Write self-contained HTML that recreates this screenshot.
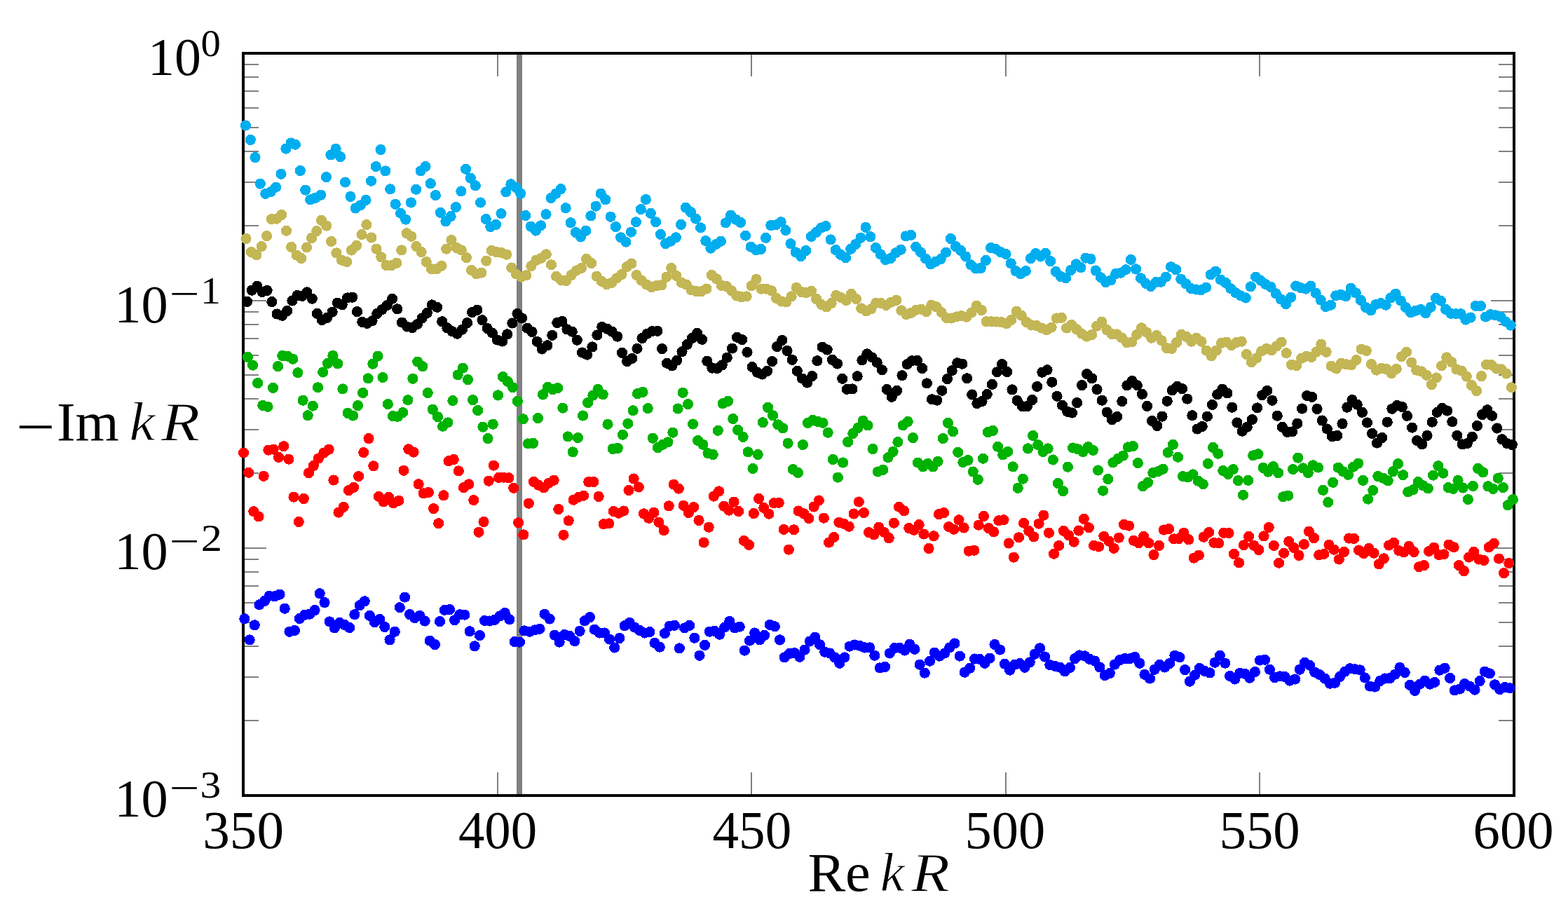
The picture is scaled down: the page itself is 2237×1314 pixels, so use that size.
<!DOCTYPE html>
<html lang="en"><head><meta charset="utf-8"><title>Resonances: Re kR vs −Im kR</title>
<style>
html,body{margin:0;padding:0;background:#fff;}
body{width:2237px;height:1314px;overflow:hidden;position:relative;}
svg{position:absolute;left:0;top:0;display:block;}
text{font-family:"Liberation Serif","DejaVu Serif",serif;fill:#000;}
</style></head><body>
<svg width="2237" height="1314" viewBox="0 0 2237 1314">
<rect x="0" y="0" width="2237" height="1314" fill="#fff"/>
<path d="M347 321h22v2h-22zM2138 321h22v2h-22zM347 259h22v2h-22zM2138 259h22v2h-22zM347 215h22v2h-22zM2138 215h22v2h-22zM347 181h22v2h-22zM2138 181h22v2h-22zM347 153h22v2h-22zM2138 153h22v2h-22zM347 129h22v2h-22zM2138 129h22v2h-22zM347 109h22v2h-22zM2138 109h22v2h-22zM347 91h22v2h-22zM2138 91h22v2h-22zM347 674h22v2h-22zM2138 674h22v2h-22zM347 612h22v2h-22zM2138 612h22v2h-22zM347 568h22v2h-22zM2138 568h22v2h-22zM347 534h22v2h-22zM2138 534h22v2h-22zM347 506h22v2h-22zM2138 506h22v2h-22zM347 482h22v2h-22zM2138 482h22v2h-22zM347 462h22v2h-22zM2138 462h22v2h-22zM347 444h22v2h-22zM2138 444h22v2h-22zM347 1027h22v2h-22zM2138 1027h22v2h-22zM347 965h22v2h-22zM2138 965h22v2h-22zM347 921h22v2h-22zM2138 921h22v2h-22zM347 887h22v2h-22zM2138 887h22v2h-22zM347 859h22v2h-22zM2138 859h22v2h-22zM347 835h22v2h-22zM2138 835h22v2h-22zM347 815h22v2h-22zM2138 815h22v2h-22zM347 797h22v2h-22zM2138 797h22v2h-22zM347 428h33v2h-33zM2127 428h33v2h-33zM347 781h33v2h-33zM2127 781h33v2h-33zM709 1102v33h2v-33zM709 76v33h2v-33zM1071 1102v33h2v-33zM1071 76v33h2v-33zM1434 1102v33h2v-33zM1434 76v33h2v-33zM1796 1102v33h2v-33zM1796 76v33h2v-33z" fill="#808080" shape-rendering="crispEdges"/>
<rect x="737" y="76" width="8" height="1059" fill="#808080" shape-rendering="crispEdges"/>
<rect x="347.0" y="76.0" width="1813.0" height="1059.0" fill="none" stroke="#000" stroke-width="4" shape-rendering="crispEdges"/>
<g fill="#0000ff" shape-rendering="crispEdges">
<circle cx="348.9" cy="882.8" r="7.6"/><circle cx="356.1" cy="912.9" r="7.6"/><circle cx="363.2" cy="891.8" r="7.6"/><circle cx="370.0" cy="862.8" r="7.6"/><circle cx="377.6" cy="857.4" r="7.6"/><circle cx="384.2" cy="850.3" r="7.6"/><circle cx="391.9" cy="850.8" r="7.6"/><circle cx="399.0" cy="848.1" r="7.6"/><circle cx="406.2" cy="868.2" r="7.6"/><circle cx="413.0" cy="901.2" r="7.6"/><circle cx="420.5" cy="899.5" r="7.6"/><circle cx="427.3" cy="882.5" r="7.6"/><circle cx="434.8" cy="877.1" r="7.6"/><circle cx="441.9" cy="876.2" r="7.6"/><circle cx="449.1" cy="870.5" r="7.6"/><circle cx="456.2" cy="846.7" r="7.6"/><circle cx="463.0" cy="859.6" r="7.6"/><circle cx="470.2" cy="886.9" r="7.6"/><circle cx="477.3" cy="895.9" r="7.6"/><circle cx="484.5" cy="888.4" r="7.6"/><circle cx="491.6" cy="891.4" r="7.6"/><circle cx="498.8" cy="895.5" r="7.6"/><circle cx="505.9" cy="876.7" r="7.6"/><circle cx="513.1" cy="863.7" r="7.6"/><circle cx="520.2" cy="857.8" r="7.6"/><circle cx="527.4" cy="878.4" r="7.6"/><circle cx="534.5" cy="887.8" r="7.6"/><circle cx="541.7" cy="883.4" r="7.6"/><circle cx="548.9" cy="894.5" r="7.6"/><circle cx="556.0" cy="912.9" r="7.6"/><circle cx="563.2" cy="901.2" r="7.6"/><circle cx="570.3" cy="866.7" r="7.6"/><circle cx="577.5" cy="852.1" r="7.6"/><circle cx="584.6" cy="876.7" r="7.6"/><circle cx="591.8" cy="881.6" r="7.6"/><circle cx="598.9" cy="878.4" r="7.6"/><circle cx="606.1" cy="886.0" r="7.6"/><circle cx="613.2" cy="914.1" r="7.6"/><circle cx="620.4" cy="919.7" r="7.6"/><circle cx="627.5" cy="886.6" r="7.6"/><circle cx="634.3" cy="870.3" r="7.6"/><circle cx="641.5" cy="869.6" r="7.6"/><circle cx="648.6" cy="884.8" r="7.6"/><circle cx="655.8" cy="876.7" r="7.6"/><circle cx="662.9" cy="877.1" r="7.6"/><circle cx="670.1" cy="900.7" r="7.6"/><circle cx="677.2" cy="921.8" r="7.6"/><circle cx="684.4" cy="906.6" r="7.6"/><circle cx="691.5" cy="885.5" r="7.6"/><circle cx="698.7" cy="886.0" r="7.6"/><circle cx="705.8" cy="884.3" r="7.6"/><circle cx="713.0" cy="878.9" r="7.6"/><circle cx="720.2" cy="874.4" r="7.6"/><circle cx="726.9" cy="883.7" r="7.6"/><circle cx="734.1" cy="915.6" r="7.6"/><circle cx="741.4" cy="916.1" r="7.6"/><circle cx="748.0" cy="900.0" r="7.6"/><circle cx="755.7" cy="901.2" r="7.6"/><circle cx="762.9" cy="898.9" r="7.6"/><circle cx="770.0" cy="897.3" r="7.6"/><circle cx="777.0" cy="876.2" r="7.6"/><circle cx="784.2" cy="883.0" r="7.6"/><circle cx="791.3" cy="906.1" r="7.6"/><circle cx="798.1" cy="916.1" r="7.6"/><circle cx="805.3" cy="905.4" r="7.6"/><circle cx="812.8" cy="907.5" r="7.6"/><circle cx="819.9" cy="914.7" r="7.6"/><circle cx="827.1" cy="900.4" r="7.6"/><circle cx="834.2" cy="885.7" r="7.6"/><circle cx="841.4" cy="880.7" r="7.6"/><circle cx="848.2" cy="898.2" r="7.6"/><circle cx="855.3" cy="903.0" r="7.6"/><circle cx="862.5" cy="903.0" r="7.6"/><circle cx="869.6" cy="912.0" r="7.6"/><circle cx="876.8" cy="924.0" r="7.6"/><circle cx="883.9" cy="910.5" r="7.6"/><circle cx="891.1" cy="892.8" r="7.6"/><circle cx="898.2" cy="888.4" r="7.6"/><circle cx="905.4" cy="895.0" r="7.6"/><circle cx="912.6" cy="899.5" r="7.6"/><circle cx="919.7" cy="903.0" r="7.6"/><circle cx="926.9" cy="901.6" r="7.6"/><circle cx="934.0" cy="917.3" r="7.6"/><circle cx="941.2" cy="923.1" r="7.6"/><circle cx="948.3" cy="903.6" r="7.6"/><circle cx="955.1" cy="893.2" r="7.6"/><circle cx="962.3" cy="892.3" r="7.6"/><circle cx="969.4" cy="924.9" r="7.6"/><circle cx="976.6" cy="895.9" r="7.6"/><circle cx="983.7" cy="892.3" r="7.6"/><circle cx="990.9" cy="910.2" r="7.6"/><circle cx="998.0" cy="935.2" r="7.6"/><circle cx="1005.5" cy="920.4" r="7.6"/><circle cx="1012.3" cy="901.2" r="7.6"/><circle cx="1019.5" cy="900.4" r="7.6"/><circle cx="1026.6" cy="905.2" r="7.6"/><circle cx="1033.8" cy="895.0" r="7.6"/><circle cx="1040.9" cy="886.4" r="7.6"/><circle cx="1048.1" cy="895.9" r="7.6"/><circle cx="1055.2" cy="894.1" r="7.6"/><circle cx="1062.4" cy="928.1" r="7.6"/><circle cx="1069.5" cy="914.1" r="7.6"/><circle cx="1076.7" cy="903.0" r="7.6"/><circle cx="1083.9" cy="912.9" r="7.6"/><circle cx="1090.6" cy="906.3" r="7.6"/><circle cx="1098.2" cy="891.4" r="7.6"/><circle cx="1105.3" cy="893.7" r="7.6"/><circle cx="1112.5" cy="912.9" r="7.6"/><circle cx="1119.1" cy="937.9" r="7.6"/><circle cx="1126.2" cy="932.5" r="7.6"/><circle cx="1133.4" cy="931.6" r="7.6"/><circle cx="1140.9" cy="937.3" r="7.6"/><circle cx="1148.0" cy="927.1" r="7.6"/><circle cx="1155.2" cy="915.0" r="7.6"/><circle cx="1162.7" cy="909.1" r="7.6"/><circle cx="1169.5" cy="919.8" r="7.6"/><circle cx="1176.7" cy="930.2" r="7.6"/><circle cx="1183.8" cy="932.0" r="7.6"/><circle cx="1191.0" cy="937.9" r="7.6"/><circle cx="1197.8" cy="946.3" r="7.6"/><circle cx="1204.9" cy="937.9" r="7.6"/><circle cx="1212.1" cy="922.1" r="7.6"/><circle cx="1219.2" cy="920.0" r="7.6"/><circle cx="1226.4" cy="921.2" r="7.6"/><circle cx="1233.5" cy="923.9" r="7.6"/><circle cx="1240.7" cy="923.9" r="7.6"/><circle cx="1247.8" cy="935.2" r="7.6"/><circle cx="1255.3" cy="952.9" r="7.6"/><circle cx="1262.5" cy="951.3" r="7.6"/><circle cx="1269.3" cy="932.0" r="7.6"/><circle cx="1276.4" cy="924.5" r="7.6"/><circle cx="1283.6" cy="924.3" r="7.6"/><circle cx="1290.7" cy="928.0" r="7.6"/><circle cx="1297.9" cy="919.1" r="7.6"/><circle cx="1305.0" cy="926.3" r="7.6"/><circle cx="1312.2" cy="948.1" r="7.6"/><circle cx="1319.3" cy="960.1" r="7.6"/><circle cx="1326.5" cy="943.2" r="7.6"/><circle cx="1333.3" cy="931.1" r="7.6"/><circle cx="1340.4" cy="936.1" r="7.6"/><circle cx="1347.6" cy="932.0" r="7.6"/><circle cx="1354.8" cy="923.9" r="7.6"/><circle cx="1361.9" cy="918.0" r="7.6"/><circle cx="1369.4" cy="936.1" r="7.6"/><circle cx="1376.2" cy="959.2" r="7.6"/><circle cx="1383.7" cy="953.1" r="7.6"/><circle cx="1390.5" cy="940.0" r="7.6"/><circle cx="1397.7" cy="940.4" r="7.6"/><circle cx="1404.8" cy="946.3" r="7.6"/><circle cx="1412.0" cy="939.1" r="7.6"/><circle cx="1419.1" cy="919.5" r="7.6"/><circle cx="1426.6" cy="927.0" r="7.6"/><circle cx="1433.4" cy="947.2" r="7.6"/><circle cx="1440.6" cy="956.1" r="7.6"/><circle cx="1447.7" cy="948.1" r="7.6"/><circle cx="1454.9" cy="946.6" r="7.6"/><circle cx="1462.0" cy="952.2" r="7.6"/><circle cx="1469.2" cy="944.9" r="7.6"/><circle cx="1476.3" cy="933.2" r="7.6"/><circle cx="1483.5" cy="924.8" r="7.6"/><circle cx="1490.6" cy="937.0" r="7.6"/><circle cx="1497.8" cy="948.6" r="7.6"/><circle cx="1505.0" cy="950.2" r="7.6"/><circle cx="1512.1" cy="952.2" r="7.6"/><circle cx="1519.3" cy="957.9" r="7.6"/><circle cx="1526.4" cy="952.5" r="7.6"/><circle cx="1533.6" cy="939.7" r="7.6"/><circle cx="1540.0" cy="935.0" r="7.6"/><circle cx="1547.5" cy="935.9" r="7.6"/><circle cx="1554.7" cy="940.4" r="7.6"/><circle cx="1561.8" cy="943.0" r="7.6"/><circle cx="1569.0" cy="952.0" r="7.6"/><circle cx="1576.1" cy="963.6" r="7.6"/><circle cx="1583.3" cy="960.4" r="7.6"/><circle cx="1590.4" cy="948.0" r="7.6"/><circle cx="1597.6" cy="941.6" r="7.6"/><circle cx="1604.7" cy="939.5" r="7.6"/><circle cx="1611.9" cy="939.8" r="7.6"/><circle cx="1619.0" cy="937.3" r="7.6"/><circle cx="1625.8" cy="946.3" r="7.6"/><circle cx="1633.0" cy="962.3" r="7.6"/><circle cx="1640.5" cy="968.1" r="7.6"/><circle cx="1647.3" cy="955.2" r="7.6"/><circle cx="1654.4" cy="948.4" r="7.6"/><circle cx="1661.6" cy="952.0" r="7.6"/><circle cx="1668.7" cy="946.6" r="7.6"/><circle cx="1675.9" cy="935.3" r="7.6"/><circle cx="1683.0" cy="937.7" r="7.6"/><circle cx="1690.6" cy="955.6" r="7.6"/><circle cx="1697.4" cy="972.2" r="7.6"/><circle cx="1704.5" cy="963.2" r="7.6"/><circle cx="1711.3" cy="953.4" r="7.6"/><circle cx="1718.5" cy="957.3" r="7.6"/><circle cx="1726.0" cy="960.0" r="7.6"/><circle cx="1733.1" cy="945.2" r="7.6"/><circle cx="1740.3" cy="935.3" r="7.6"/><circle cx="1747.8" cy="946.1" r="7.6"/><circle cx="1754.6" cy="964.5" r="7.6"/><circle cx="1761.7" cy="969.0" r="7.6"/><circle cx="1768.9" cy="960.4" r="7.6"/><circle cx="1776.0" cy="961.3" r="7.6"/><circle cx="1782.8" cy="967.2" r="7.6"/><circle cx="1790.3" cy="958.6" r="7.6"/><circle cx="1797.5" cy="942.1" r="7.6"/><circle cx="1804.6" cy="941.2" r="7.6"/><circle cx="1811.4" cy="955.2" r="7.6"/><circle cx="1818.6" cy="966.8" r="7.6"/><circle cx="1825.7" cy="964.9" r="7.6"/><circle cx="1832.9" cy="965.4" r="7.6"/><circle cx="1840.0" cy="971.1" r="7.6"/><circle cx="1847.6" cy="969.0" r="7.6"/><circle cx="1854.3" cy="955.2" r="7.6"/><circle cx="1861.5" cy="945.4" r="7.6"/><circle cx="1868.7" cy="949.3" r="7.6"/><circle cx="1875.8" cy="959.1" r="7.6"/><circle cx="1883.0" cy="962.7" r="7.6"/><circle cx="1890.1" cy="968.1" r="7.6"/><circle cx="1897.3" cy="975.2" r="7.6"/><circle cx="1904.4" cy="974.3" r="7.6"/><circle cx="1911.6" cy="965.4" r="7.6"/><circle cx="1918.7" cy="958.2" r="7.6"/><circle cx="1925.9" cy="953.8" r="7.6"/><circle cx="1933.0" cy="954.7" r="7.6"/><circle cx="1940.2" cy="955.9" r="7.6"/><circle cx="1947.3" cy="967.0" r="7.6"/><circle cx="1954.5" cy="979.1" r="7.6"/><circle cx="1961.6" cy="980.0" r="7.6"/><circle cx="1968.8" cy="971.6" r="7.6"/><circle cx="1975.9" cy="968.0" r="7.6"/><circle cx="1983.1" cy="967.5" r="7.6"/><circle cx="1990.2" cy="962.1" r="7.6"/><circle cx="1997.0" cy="952.3" r="7.6"/><circle cx="2004.2" cy="959.5" r="7.6"/><circle cx="2011.3" cy="977.3" r="7.6"/><circle cx="2018.5" cy="985.4" r="7.6"/><circle cx="2025.6" cy="976.1" r="7.6"/><circle cx="2032.8" cy="971.1" r="7.6"/><circle cx="2040.0" cy="976.1" r="7.6"/><circle cx="2046.7" cy="973.4" r="7.6"/><circle cx="2053.9" cy="956.2" r="7.6"/><circle cx="2061.1" cy="953.2" r="7.6"/><circle cx="2068.6" cy="967.5" r="7.6"/><circle cx="2075.4" cy="984.9" r="7.6"/><circle cx="2082.5" cy="983.1" r="7.6"/><circle cx="2089.7" cy="975.6" r="7.6"/><circle cx="2096.8" cy="979.1" r="7.6"/><circle cx="2104.0" cy="984.1" r="7.6"/><circle cx="2111.1" cy="971.6" r="7.6"/><circle cx="2118.3" cy="958.2" r="7.6"/><circle cx="2125.4" cy="960.9" r="7.6"/><circle cx="2132.6" cy="976.8" r="7.6"/><circle cx="2139.7" cy="983.6" r="7.6"/><circle cx="2146.9" cy="980.6" r="7.6"/><circle cx="2154.0" cy="981.8" r="7.6"/>
</g>
<g fill="#ff0000" shape-rendering="crispEdges">
<circle cx="347.5" cy="646.0" r="7.6"/><circle cx="354.7" cy="674.3" r="7.6"/><circle cx="361.8" cy="729.7" r="7.6"/><circle cx="369.0" cy="736.9" r="7.6"/><circle cx="376.1" cy="679.3" r="7.6"/><circle cx="382.9" cy="642.1" r="7.6"/><circle cx="390.1" cy="641.2" r="7.6"/><circle cx="397.6" cy="652.4" r="7.6"/><circle cx="404.7" cy="636.7" r="7.6"/><circle cx="411.9" cy="655.1" r="7.6"/><circle cx="419.0" cy="709.1" r="7.6"/><circle cx="426.2" cy="744.5" r="7.6"/><circle cx="433.3" cy="711.5" r="7.6"/><circle cx="440.5" cy="674.8" r="7.6"/><circle cx="447.3" cy="664.4" r="7.6"/><circle cx="454.4" cy="654.0" r="7.6"/><circle cx="461.9" cy="646.2" r="7.6"/><circle cx="469.1" cy="641.2" r="7.6"/><circle cx="475.9" cy="685.0" r="7.6"/><circle cx="483.0" cy="731.1" r="7.6"/><circle cx="490.2" cy="723.4" r="7.6"/><circle cx="497.4" cy="699.7" r="7.6"/><circle cx="504.5" cy="695.4" r="7.6"/><circle cx="511.7" cy="679.6" r="7.6"/><circle cx="518.8" cy="645.6" r="7.6"/><circle cx="526.0" cy="625.6" r="7.6"/><circle cx="532.8" cy="664.8" r="7.6"/><circle cx="540.3" cy="708.4" r="7.6"/><circle cx="547.1" cy="715.9" r="7.6"/><circle cx="554.6" cy="709.3" r="7.6"/><circle cx="561.4" cy="717.9" r="7.6"/><circle cx="568.9" cy="714.3" r="7.6"/><circle cx="576.0" cy="671.2" r="7.6"/><circle cx="582.8" cy="640.8" r="7.6"/><circle cx="590.0" cy="645.1" r="7.6"/><circle cx="597.1" cy="690.7" r="7.6"/><circle cx="604.3" cy="703.8" r="7.6"/><circle cx="611.4" cy="702.5" r="7.6"/><circle cx="618.6" cy="725.6" r="7.6"/><circle cx="625.7" cy="746.7" r="7.6"/><circle cx="632.9" cy="706.8" r="7.6"/><circle cx="640.0" cy="657.8" r="7.6"/><circle cx="647.2" cy="655.5" r="7.6"/><circle cx="654.3" cy="671.9" r="7.6"/><circle cx="661.5" cy="695.7" r="7.6"/><circle cx="668.7" cy="690.9" r="7.6"/><circle cx="675.8" cy="713.6" r="7.6"/><circle cx="683.0" cy="759.2" r="7.6"/><circle cx="690.1" cy="744.5" r="7.6"/><circle cx="697.3" cy="686.2" r="7.6"/><circle cx="704.4" cy="664.1" r="7.6"/><circle cx="711.6" cy="681.4" r="7.6"/><circle cx="718.7" cy="681.1" r="7.6"/><circle cx="725.9" cy="681.8" r="7.6"/><circle cx="732.7" cy="696.3" r="7.6"/><circle cx="739.6" cy="745.8" r="7.6"/><circle cx="746.8" cy="762.9" r="7.6"/><circle cx="754.3" cy="718.2" r="7.6"/><circle cx="761.5" cy="687.3" r="7.6"/><circle cx="768.6" cy="692.3" r="7.6"/><circle cx="775.8" cy="695.9" r="7.6"/><circle cx="782.9" cy="689.3" r="7.6"/><circle cx="790.1" cy="685.2" r="7.6"/><circle cx="796.9" cy="726.5" r="7.6"/><circle cx="804.0" cy="763.3" r="7.6"/><circle cx="811.2" cy="742.9" r="7.6"/><circle cx="818.1" cy="713.2" r="7.6"/><circle cx="825.3" cy="709.3" r="7.6"/><circle cx="832.6" cy="707.1" r="7.6"/><circle cx="839.8" cy="687.5" r="7.6"/><circle cx="846.9" cy="687.5" r="7.6"/><circle cx="854.1" cy="708.4" r="7.6"/><circle cx="861.2" cy="747.7" r="7.6"/><circle cx="868.7" cy="746.9" r="7.6"/><circle cx="875.4" cy="729.5" r="7.6"/><circle cx="882.5" cy="732.2" r="7.6"/><circle cx="889.8" cy="729.0" r="7.6"/><circle cx="897.0" cy="699.5" r="7.6"/><circle cx="904.1" cy="683.0" r="7.6"/><circle cx="911.3" cy="695.0" r="7.6"/><circle cx="918.5" cy="732.9" r="7.6"/><circle cx="925.6" cy="739.3" r="7.6"/><circle cx="932.8" cy="731.3" r="7.6"/><circle cx="939.9" cy="745.1" r="7.6"/><circle cx="947.1" cy="756.7" r="7.6"/><circle cx="954.2" cy="721.8" r="7.6"/><circle cx="961.2" cy="691.1" r="7.6"/><circle cx="968.3" cy="697.1" r="7.6"/><circle cx="975.1" cy="721.3" r="7.6"/><circle cx="982.3" cy="731.6" r="7.6"/><circle cx="989.8" cy="723.6" r="7.6"/><circle cx="997.0" cy="742.4" r="7.6"/><circle cx="1004.1" cy="774.0" r="7.6"/><circle cx="1011.1" cy="752.2" r="7.6"/><circle cx="1018.4" cy="708.0" r="7.6"/><circle cx="1025.6" cy="700.9" r="7.6"/><circle cx="1032.7" cy="722.2" r="7.6"/><circle cx="1039.9" cy="728.1" r="7.6"/><circle cx="1047.0" cy="716.1" r="7.6"/><circle cx="1053.8" cy="729.5" r="7.6"/><circle cx="1061.3" cy="771.4" r="7.6"/><circle cx="1068.5" cy="777.3" r="7.6"/><circle cx="1075.4" cy="732.5" r="7.6"/><circle cx="1082.6" cy="711.4" r="7.6"/><circle cx="1089.8" cy="724.5" r="7.6"/><circle cx="1096.9" cy="733.1" r="7.6"/><circle cx="1104.1" cy="717.7" r="7.6"/><circle cx="1111.2" cy="717.3" r="7.6"/><circle cx="1118.2" cy="755.4" r="7.6"/><circle cx="1125.3" cy="784.1" r="7.6"/><circle cx="1132.5" cy="755.8" r="7.6"/><circle cx="1139.1" cy="729.0" r="7.6"/><circle cx="1146.8" cy="732.8" r="7.6"/><circle cx="1153.9" cy="739.6" r="7.6"/><circle cx="1161.1" cy="723.0" r="7.6"/><circle cx="1168.3" cy="714.0" r="7.6"/><circle cx="1175.4" cy="739.1" r="7.6"/><circle cx="1182.6" cy="774.0" r="7.6"/><circle cx="1189.7" cy="766.4" r="7.6"/><circle cx="1196.9" cy="745.3" r="7.6"/><circle cx="1204.0" cy="747.3" r="7.6"/><circle cx="1211.2" cy="751.2" r="7.6"/><circle cx="1218.1" cy="733.0" r="7.6"/><circle cx="1225.3" cy="716.0" r="7.6"/><circle cx="1232.4" cy="731.6" r="7.6"/><circle cx="1239.6" cy="759.7" r="7.6"/><circle cx="1246.8" cy="762.9" r="7.6"/><circle cx="1253.9" cy="752.1" r="7.6"/><circle cx="1261.1" cy="759.3" r="7.6"/><circle cx="1268.2" cy="767.7" r="7.6"/><circle cx="1275.4" cy="746.2" r="7.6"/><circle cx="1282.5" cy="723.2" r="7.6"/><circle cx="1289.7" cy="728.9" r="7.6"/><circle cx="1296.8" cy="753.4" r="7.6"/><circle cx="1304.0" cy="756.3" r="7.6"/><circle cx="1311.1" cy="748.6" r="7.6"/><circle cx="1317.9" cy="762.0" r="7.6"/><circle cx="1325.1" cy="782.5" r="7.6"/><circle cx="1332.2" cy="764.7" r="7.6"/><circle cx="1339.4" cy="733.7" r="7.6"/><circle cx="1346.5" cy="731.6" r="7.6"/><circle cx="1353.7" cy="751.6" r="7.6"/><circle cx="1360.8" cy="755.2" r="7.6"/><circle cx="1368.0" cy="741.8" r="7.6"/><circle cx="1375.1" cy="753.0" r="7.6"/><circle cx="1382.3" cy="786.1" r="7.6"/><circle cx="1389.8" cy="785.2" r="7.6"/><circle cx="1396.2" cy="749.1" r="7.6"/><circle cx="1403.4" cy="736.4" r="7.6"/><circle cx="1410.5" cy="753.6" r="7.6"/><circle cx="1417.7" cy="758.9" r="7.6"/><circle cx="1424.8" cy="742.7" r="7.6"/><circle cx="1432.0" cy="741.8" r="7.6"/><circle cx="1439.2" cy="775.0" r="7.6"/><circle cx="1446.3" cy="795.1" r="7.6"/><circle cx="1453.5" cy="766.8" r="7.6"/><circle cx="1460.6" cy="746.2" r="7.6"/><circle cx="1467.8" cy="757.5" r="7.6"/><circle cx="1474.9" cy="765.9" r="7.6"/><circle cx="1482.1" cy="747.1" r="7.6"/><circle cx="1488.9" cy="735.2" r="7.6"/><circle cx="1496.4" cy="760.2" r="7.6"/><circle cx="1503.5" cy="790.2" r="7.6"/><circle cx="1510.7" cy="778.4" r="7.6"/><circle cx="1517.5" cy="757.5" r="7.6"/><circle cx="1524.6" cy="763.8" r="7.6"/><circle cx="1532.1" cy="773.1" r="7.6"/><circle cx="1538.9" cy="757.0" r="7.6"/><circle cx="1546.3" cy="740.3" r="7.6"/><circle cx="1553.4" cy="752.8" r="7.6"/><circle cx="1560.6" cy="778.2" r="7.6"/><circle cx="1567.7" cy="780.0" r="7.6"/><circle cx="1574.9" cy="765.3" r="7.6"/><circle cx="1582.0" cy="772.1" r="7.6"/><circle cx="1589.2" cy="782.3" r="7.6"/><circle cx="1596.3" cy="767.1" r="7.6"/><circle cx="1603.5" cy="748.3" r="7.6"/><circle cx="1610.6" cy="750.1" r="7.6"/><circle cx="1617.4" cy="771.2" r="7.6"/><circle cx="1624.6" cy="774.8" r="7.6"/><circle cx="1631.7" cy="765.3" r="7.6"/><circle cx="1638.9" cy="774.8" r="7.6"/><circle cx="1646.0" cy="791.6" r="7.6"/><circle cx="1653.5" cy="778.4" r="7.6"/><circle cx="1660.3" cy="756.0" r="7.6"/><circle cx="1667.5" cy="754.6" r="7.6"/><circle cx="1674.6" cy="768.9" r="7.6"/><circle cx="1681.8" cy="768.5" r="7.6"/><circle cx="1688.9" cy="760.3" r="7.6"/><circle cx="1695.7" cy="769.8" r="7.6"/><circle cx="1703.3" cy="796.1" r="7.6"/><circle cx="1710.4" cy="792.1" r="7.6"/><circle cx="1717.2" cy="766.2" r="7.6"/><circle cx="1724.7" cy="759.4" r="7.6"/><circle cx="1731.9" cy="774.3" r="7.6"/><circle cx="1738.7" cy="774.8" r="7.6"/><circle cx="1745.8" cy="760.3" r="7.6"/><circle cx="1753.0" cy="760.5" r="7.6"/><circle cx="1760.5" cy="790.4" r="7.6"/><circle cx="1767.6" cy="802.9" r="7.6"/><circle cx="1774.4" cy="777.8" r="7.6"/><circle cx="1781.6" cy="765.3" r="7.6"/><circle cx="1788.7" cy="778.2" r="7.6"/><circle cx="1795.9" cy="784.5" r="7.6"/><circle cx="1803.0" cy="765.0" r="7.6"/><circle cx="1810.2" cy="752.4" r="7.6"/><circle cx="1817.3" cy="778.4" r="7.6"/><circle cx="1824.5" cy="803.2" r="7.6"/><circle cx="1831.6" cy="789.1" r="7.6"/><circle cx="1838.8" cy="772.5" r="7.6"/><circle cx="1845.9" cy="781.4" r="7.6"/><circle cx="1853.1" cy="792.5" r="7.6"/><circle cx="1860.3" cy="776.6" r="7.6"/><circle cx="1867.4" cy="758.2" r="7.6"/><circle cx="1874.6" cy="767.6" r="7.6"/><circle cx="1881.7" cy="791.8" r="7.6"/><circle cx="1888.9" cy="790.4" r="7.6"/><circle cx="1896.0" cy="777.3" r="7.6"/><circle cx="1903.2" cy="784.1" r="7.6"/><circle cx="1910.3" cy="798.0" r="7.6"/><circle cx="1917.5" cy="787.3" r="7.6"/><circle cx="1924.6" cy="768.0" r="7.6"/><circle cx="1931.8" cy="768.4" r="7.6"/><circle cx="1938.6" cy="785.0" r="7.6"/><circle cx="1945.7" cy="789.6" r="7.6"/><circle cx="1952.9" cy="782.5" r="7.6"/><circle cx="1960.0" cy="789.1" r="7.6"/><circle cx="1967.2" cy="804.8" r="7.6"/><circle cx="1974.3" cy="796.8" r="7.6"/><circle cx="1981.5" cy="778.0" r="7.6"/><circle cx="1988.6" cy="774.4" r="7.6"/><circle cx="1995.8" cy="785.7" r="7.6"/><circle cx="2002.9" cy="787.8" r="7.6"/><circle cx="2010.1" cy="779.4" r="7.6"/><circle cx="2017.2" cy="787.5" r="7.6"/><circle cx="2024.4" cy="808.8" r="7.6"/><circle cx="2031.5" cy="806.6" r="7.6"/><circle cx="2038.7" cy="786.4" r="7.6"/><circle cx="2045.9" cy="781.2" r="7.6"/><circle cx="2053.0" cy="791.8" r="7.6"/><circle cx="2059.8" cy="790.9" r="7.6"/><circle cx="2067.0" cy="777.1" r="7.6"/><circle cx="2074.1" cy="780.7" r="7.6"/><circle cx="2081.3" cy="806.6" r="7.6"/><circle cx="2088.4" cy="814.7" r="7.6"/><circle cx="2095.6" cy="795.0" r="7.6"/><circle cx="2102.7" cy="787.3" r="7.6"/><circle cx="2109.9" cy="798.0" r="7.6"/><circle cx="2117.0" cy="799.5" r="7.6"/><circle cx="2124.2" cy="780.7" r="7.6"/><circle cx="2131.3" cy="775.3" r="7.6"/><circle cx="2138.5" cy="797.1" r="7.6"/><circle cx="2145.6" cy="817.7" r="7.6"/><circle cx="2152.8" cy="803.6" r="7.6"/>
</g>
<g fill="#00b300" shape-rendering="crispEdges">
<circle cx="353.4" cy="509.3" r="7.6"/><circle cx="360.6" cy="521.1" r="7.6"/><circle cx="367.7" cy="546.5" r="7.6"/><circle cx="374.9" cy="578.4" r="7.6"/><circle cx="382.0" cy="580.3" r="7.6"/><circle cx="389.5" cy="553.3" r="7.6"/><circle cx="396.5" cy="522.7" r="7.6"/><circle cx="402.9" cy="507.5" r="7.6"/><circle cx="410.6" cy="508.3" r="7.6"/><circle cx="417.8" cy="512.2" r="7.6"/><circle cx="424.9" cy="531.7" r="7.6"/><circle cx="432.1" cy="571.2" r="7.6"/><circle cx="439.2" cy="592.7" r="7.6"/><circle cx="446.4" cy="579.1" r="7.6"/><circle cx="453.5" cy="552.8" r="7.6"/><circle cx="460.7" cy="531.0" r="7.6"/><circle cx="467.5" cy="518.4" r="7.6"/><circle cx="475.0" cy="507.2" r="7.6"/><circle cx="481.8" cy="518.8" r="7.6"/><circle cx="488.9" cy="554.9" r="7.6"/><circle cx="496.1" cy="589.4" r="7.6"/><circle cx="503.6" cy="593.0" r="7.6"/><circle cx="510.4" cy="578.7" r="7.6"/><circle cx="517.6" cy="560.5" r="7.6"/><circle cx="525.1" cy="539.9" r="7.6"/><circle cx="531.9" cy="519.2" r="7.6"/><circle cx="539.0" cy="508.1" r="7.6"/><circle cx="546.0" cy="538.5" r="7.6"/><circle cx="553.3" cy="576.6" r="7.6"/><circle cx="560.5" cy="593.7" r="7.6"/><circle cx="567.4" cy="594.3" r="7.6"/><circle cx="574.8" cy="588.6" r="7.6"/><circle cx="581.9" cy="570.7" r="7.6"/><circle cx="588.9" cy="540.3" r="7.6"/><circle cx="595.7" cy="516.1" r="7.6"/><circle cx="602.9" cy="522.7" r="7.6"/><circle cx="610.2" cy="560.5" r="7.6"/><circle cx="617.3" cy="584.1" r="7.6"/><circle cx="624.5" cy="594.8" r="7.6"/><circle cx="631.6" cy="608.2" r="7.6"/><circle cx="638.8" cy="602.9" r="7.6"/><circle cx="645.9" cy="571.6" r="7.6"/><circle cx="653.1" cy="534.9" r="7.6"/><circle cx="660.3" cy="525.1" r="7.6"/><circle cx="667.4" cy="541.7" r="7.6"/><circle cx="674.6" cy="570.7" r="7.6"/><circle cx="681.7" cy="585.5" r="7.6"/><circle cx="688.9" cy="609.1" r="7.6"/><circle cx="696.0" cy="625.6" r="7.6"/><circle cx="703.2" cy="605.2" r="7.6"/><circle cx="710.5" cy="563.9" r="7.6"/><circle cx="717.3" cy="537.6" r="7.6"/><circle cx="724.4" cy="544.4" r="7.6"/><circle cx="731.6" cy="552.8" r="7.6"/><circle cx="738.4" cy="572.5" r="7.6"/><circle cx="746.3" cy="597.8" r="7.6"/><circle cx="753.4" cy="632.9" r="7.6"/><circle cx="760.6" cy="632.4" r="7.6"/><circle cx="767.4" cy="596.6" r="7.6"/><circle cx="774.5" cy="562.9" r="7.6"/><circle cx="781.5" cy="552.2" r="7.6"/><circle cx="788.6" cy="555.8" r="7.6"/><circle cx="795.8" cy="553.6" r="7.6"/><circle cx="802.9" cy="582.1" r="7.6"/><circle cx="810.1" cy="622.9" r="7.6"/><circle cx="817.2" cy="644.9" r="7.6"/><circle cx="824.4" cy="624.6" r="7.6"/><circle cx="831.6" cy="593.0" r="7.6"/><circle cx="838.7" cy="574.6" r="7.6"/><circle cx="845.9" cy="564.2" r="7.6"/><circle cx="853.0" cy="555.4" r="7.6"/><circle cx="860.2" cy="562.9" r="7.6"/><circle cx="867.0" cy="605.3" r="7.6"/><circle cx="874.1" cy="640.4" r="7.6"/><circle cx="881.3" cy="639.5" r="7.6"/><circle cx="888.4" cy="620.2" r="7.6"/><circle cx="895.9" cy="604.4" r="7.6"/><circle cx="903.1" cy="585.7" r="7.6"/><circle cx="909.5" cy="561.7" r="7.6"/><circle cx="917.0" cy="559.4" r="7.6"/><circle cx="924.2" cy="582.6" r="7.6"/><circle cx="931.3" cy="625.2" r="7.6"/><circle cx="938.5" cy="638.7" r="7.6"/><circle cx="945.6" cy="634.2" r="7.6"/><circle cx="952.8" cy="630.9" r="7.6"/><circle cx="959.9" cy="617.1" r="7.6"/><circle cx="967.1" cy="583.0" r="7.6"/><circle cx="974.2" cy="560.3" r="7.6"/><circle cx="981.4" cy="576.7" r="7.6"/><circle cx="988.5" cy="605.0" r="7.6"/><circle cx="995.7" cy="628.4" r="7.6"/><circle cx="1002.9" cy="634.2" r="7.6"/><circle cx="1010.0" cy="646.7" r="7.6"/><circle cx="1017.2" cy="648.5" r="7.6"/><circle cx="1024.3" cy="614.3" r="7.6"/><circle cx="1031.1" cy="575.8" r="7.6"/><circle cx="1038.6" cy="572.4" r="7.6"/><circle cx="1045.8" cy="597.5" r="7.6"/><circle cx="1052.6" cy="613.4" r="7.6"/><circle cx="1060.1" cy="623.4" r="7.6"/><circle cx="1067.2" cy="644.9" r="7.6"/><circle cx="1074.0" cy="668.5" r="7.6"/><circle cx="1081.2" cy="648.5" r="7.6"/><circle cx="1088.3" cy="602.7" r="7.6"/><circle cx="1095.5" cy="581.4" r="7.6"/><circle cx="1102.6" cy="592.8" r="7.6"/><circle cx="1109.8" cy="605.9" r="7.6"/><circle cx="1116.9" cy="610.9" r="7.6"/><circle cx="1124.1" cy="632.4" r="7.6"/><circle cx="1131.2" cy="669.6" r="7.6"/><circle cx="1138.4" cy="674.4" r="7.6"/><circle cx="1145.4" cy="634.6" r="7.6"/><circle cx="1152.5" cy="603.3" r="7.6"/><circle cx="1159.7" cy="599.3" r="7.6"/><circle cx="1166.8" cy="601.5" r="7.6"/><circle cx="1174.0" cy="603.3" r="7.6"/><circle cx="1181.1" cy="617.2" r="7.6"/><circle cx="1188.3" cy="655.5" r="7.6"/><circle cx="1195.4" cy="681.1" r="7.6"/><circle cx="1202.6" cy="660.0" r="7.6"/><circle cx="1209.7" cy="630.6" r="7.6"/><circle cx="1216.9" cy="618.5" r="7.6"/><circle cx="1224.0" cy="610.4" r="7.6"/><circle cx="1231.2" cy="600.2" r="7.6"/><circle cx="1238.0" cy="606.9" r="7.6"/><circle cx="1245.1" cy="640.5" r="7.6"/><circle cx="1252.3" cy="673.0" r="7.6"/><circle cx="1259.8" cy="670.3" r="7.6"/><circle cx="1267.0" cy="652.8" r="7.6"/><circle cx="1274.1" cy="644.4" r="7.6"/><circle cx="1280.9" cy="630.6" r="7.6"/><circle cx="1288.1" cy="606.9" r="7.6"/><circle cx="1295.2" cy="601.5" r="7.6"/><circle cx="1302.4" cy="624.7" r="7.6"/><circle cx="1309.5" cy="660.1" r="7.6"/><circle cx="1316.7" cy="665.9" r="7.6"/><circle cx="1323.8" cy="661.4" r="7.6"/><circle cx="1331.0" cy="665.9" r="7.6"/><circle cx="1338.1" cy="658.4" r="7.6"/><circle cx="1345.3" cy="625.6" r="7.6"/><circle cx="1352.4" cy="603.3" r="7.6"/><circle cx="1359.6" cy="615.8" r="7.6"/><circle cx="1366.7" cy="645.3" r="7.6"/><circle cx="1373.9" cy="659.6" r="7.6"/><circle cx="1381.0" cy="656.6" r="7.6"/><circle cx="1388.2" cy="673.0" r="7.6"/><circle cx="1395.3" cy="684.3" r="7.6"/><circle cx="1402.5" cy="654.2" r="7.6"/><circle cx="1409.3" cy="616.7" r="7.6"/><circle cx="1416.4" cy="614.4" r="7.6"/><circle cx="1423.6" cy="637.3" r="7.6"/><circle cx="1430.7" cy="648.9" r="7.6"/><circle cx="1437.9" cy="644.4" r="7.6"/><circle cx="1445.1" cy="665.9" r="7.6"/><circle cx="1452.2" cy="696.3" r="7.6"/><circle cx="1459.4" cy="683.2" r="7.6"/><circle cx="1466.5" cy="639.9" r="7.6"/><circle cx="1473.7" cy="621.5" r="7.6"/><circle cx="1480.8" cy="634.6" r="7.6"/><circle cx="1488.0" cy="644.4" r="7.6"/><circle cx="1495.1" cy="639.9" r="7.6"/><circle cx="1502.3" cy="656.0" r="7.6"/><circle cx="1509.4" cy="689.5" r="7.6"/><circle cx="1516.6" cy="700.6" r="7.6"/><circle cx="1523.4" cy="666.2" r="7.6"/><circle cx="1530.5" cy="639.0" r="7.6"/><circle cx="1537.7" cy="640.8" r="7.6"/><circle cx="1545.0" cy="644.7" r="7.6"/><circle cx="1552.2" cy="637.6" r="7.6"/><circle cx="1559.3" cy="642.4" r="7.6"/><circle cx="1566.5" cy="671.0" r="7.6"/><circle cx="1573.6" cy="700.1" r="7.6"/><circle cx="1580.8" cy="683.5" r="7.6"/><circle cx="1587.9" cy="659.9" r="7.6"/><circle cx="1595.1" cy="654.4" r="7.6"/><circle cx="1602.2" cy="650.1" r="7.6"/><circle cx="1609.4" cy="637.9" r="7.6"/><circle cx="1616.5" cy="636.5" r="7.6"/><circle cx="1623.3" cy="660.6" r="7.6"/><circle cx="1630.5" cy="693.7" r="7.6"/><circle cx="1637.6" cy="688.3" r="7.6"/><circle cx="1644.8" cy="674.6" r="7.6"/><circle cx="1651.9" cy="672.8" r="7.6"/><circle cx="1659.1" cy="669.2" r="7.6"/><circle cx="1666.2" cy="645.6" r="7.6"/><circle cx="1673.4" cy="634.3" r="7.6"/><circle cx="1680.5" cy="652.2" r="7.6"/><circle cx="1687.7" cy="679.6" r="7.6"/><circle cx="1694.9" cy="680.8" r="7.6"/><circle cx="1702.0" cy="676.9" r="7.6"/><circle cx="1709.2" cy="686.2" r="7.6"/><circle cx="1716.3" cy="690.7" r="7.6"/><circle cx="1723.5" cy="661.5" r="7.6"/><circle cx="1730.6" cy="638.4" r="7.6"/><circle cx="1737.8" cy="647.2" r="7.6"/><circle cx="1744.9" cy="671.5" r="7.6"/><circle cx="1752.1" cy="676.4" r="7.6"/><circle cx="1759.2" cy="669.6" r="7.6"/><circle cx="1766.4" cy="685.7" r="7.6"/><circle cx="1773.5" cy="706.2" r="7.6"/><circle cx="1780.7" cy="685.3" r="7.6"/><circle cx="1787.8" cy="649.9" r="7.6"/><circle cx="1795.0" cy="647.7" r="7.6"/><circle cx="1802.1" cy="667.4" r="7.6"/><circle cx="1809.3" cy="673.1" r="7.6"/><circle cx="1816.4" cy="665.6" r="7.6"/><circle cx="1823.6" cy="674.6" r="7.6"/><circle cx="1830.7" cy="708.7" r="7.6"/><circle cx="1837.9" cy="707.1" r="7.6"/><circle cx="1844.7" cy="669.6" r="7.6"/><circle cx="1851.8" cy="653.1" r="7.6"/><circle cx="1859.0" cy="668.0" r="7.6"/><circle cx="1866.2" cy="674.6" r="7.6"/><circle cx="1873.3" cy="663.8" r="7.6"/><circle cx="1880.5" cy="667.1" r="7.6"/><circle cx="1887.6" cy="699.3" r="7.6"/><circle cx="1894.8" cy="716.6" r="7.6"/><circle cx="1901.6" cy="688.3" r="7.6"/><circle cx="1909.1" cy="667.1" r="7.6"/><circle cx="1916.2" cy="672.8" r="7.6"/><circle cx="1923.4" cy="677.3" r="7.6"/><circle cx="1930.5" cy="666.2" r="7.6"/><circle cx="1937.7" cy="661.2" r="7.6"/><circle cx="1944.5" cy="685.3" r="7.6"/><circle cx="1951.6" cy="712.1" r="7.6"/><circle cx="1958.8" cy="699.6" r="7.6"/><circle cx="1965.9" cy="679.5" r="7.6"/><circle cx="1973.1" cy="682.2" r="7.6"/><circle cx="1980.2" cy="685.8" r="7.6"/><circle cx="1987.4" cy="672.7" r="7.6"/><circle cx="1994.5" cy="661.6" r="7.6"/><circle cx="2001.7" cy="677.7" r="7.6"/><circle cx="2008.8" cy="701.9" r="7.6"/><circle cx="2016.0" cy="698.8" r="7.6"/><circle cx="2023.1" cy="687.6" r="7.6"/><circle cx="2030.3" cy="692.9" r="7.6"/><circle cx="2037.4" cy="696.9" r="7.6"/><circle cx="2044.6" cy="678.1" r="7.6"/><circle cx="2051.8" cy="664.7" r="7.6"/><circle cx="2058.9" cy="675.1" r="7.6"/><circle cx="2066.1" cy="695.6" r="7.6"/><circle cx="2073.2" cy="697.4" r="7.6"/><circle cx="2080.0" cy="685.4" r="7.6"/><circle cx="2087.2" cy="696.0" r="7.6"/><circle cx="2094.3" cy="712.6" r="7.6"/><circle cx="2101.5" cy="693.5" r="7.6"/><circle cx="2108.6" cy="668.4" r="7.6"/><circle cx="2115.8" cy="673.8" r="7.6"/><circle cx="2122.9" cy="693.8" r="7.6"/><circle cx="2130.1" cy="697.4" r="7.6"/><circle cx="2137.2" cy="682.2" r="7.6"/><circle cx="2144.4" cy="695.6" r="7.6"/><circle cx="2151.2" cy="720.7" r="7.6"/><circle cx="2158.3" cy="712.6" r="7.6"/>
</g>
<g fill="#000000" shape-rendering="crispEdges">
<circle cx="352.5" cy="430.3" r="7.6"/><circle cx="359.3" cy="414.2" r="7.6"/><circle cx="366.8" cy="408.3" r="7.6"/><circle cx="374.0" cy="416.5" r="7.6"/><circle cx="381.1" cy="414.4" r="7.6"/><circle cx="387.9" cy="430.6" r="7.6"/><circle cx="395.1" cy="448.0" r="7.6"/><circle cx="402.6" cy="450.3" r="7.6"/><circle cx="409.7" cy="443.5" r="7.6"/><circle cx="416.9" cy="429.0" r="7.6"/><circle cx="424.0" cy="421.5" r="7.6"/><circle cx="431.2" cy="422.4" r="7.6"/><circle cx="438.0" cy="417.0" r="7.6"/><circle cx="445.3" cy="426.2" r="7.6"/><circle cx="452.3" cy="447.3" r="7.6"/><circle cx="459.4" cy="456.6" r="7.6"/><circle cx="466.6" cy="453.3" r="7.6"/><circle cx="474.1" cy="445.1" r="7.6"/><circle cx="481.3" cy="432.1" r="7.6"/><circle cx="488.2" cy="434.9" r="7.6"/><circle cx="495.6" cy="424.9" r="7.6"/><circle cx="502.7" cy="424.2" r="7.6"/><circle cx="509.5" cy="444.6" r="7.6"/><circle cx="516.8" cy="459.4" r="7.6"/><circle cx="523.8" cy="461.4" r="7.6"/><circle cx="531.0" cy="457.8" r="7.6"/><circle cx="537.8" cy="447.6" r="7.6"/><circle cx="544.9" cy="441.7" r="7.6"/><circle cx="552.4" cy="435.6" r="7.6"/><circle cx="559.6" cy="426.2" r="7.6"/><circle cx="566.7" cy="440.8" r="7.6"/><circle cx="573.5" cy="460.1" r="7.6"/><circle cx="580.7" cy="466.0" r="7.6"/><circle cx="588.2" cy="467.5" r="7.6"/><circle cx="595.3" cy="462.6" r="7.6"/><circle cx="602.1" cy="453.9" r="7.6"/><circle cx="609.3" cy="446.4" r="7.6"/><circle cx="616.4" cy="434.9" r="7.6"/><circle cx="623.6" cy="438.3" r="7.6"/><circle cx="630.7" cy="458.7" r="7.6"/><circle cx="637.9" cy="467.8" r="7.6"/><circle cx="645.1" cy="472.7" r="7.6"/><circle cx="652.2" cy="476.2" r="7.6"/><circle cx="659.4" cy="470.2" r="7.6"/><circle cx="666.5" cy="460.7" r="7.6"/><circle cx="673.7" cy="445.5" r="7.6"/><circle cx="680.8" cy="442.3" r="7.6"/><circle cx="688.0" cy="456.7" r="7.6"/><circle cx="695.1" cy="468.4" r="7.6"/><circle cx="702.3" cy="475.0" r="7.6"/><circle cx="709.4" cy="485.0" r="7.6"/><circle cx="716.6" cy="487.0" r="7.6"/><circle cx="723.7" cy="476.8" r="7.6"/><circle cx="730.9" cy="461.0" r="7.6"/><circle cx="738.0" cy="447.6" r="7.6"/><circle cx="744.5" cy="453.9" r="7.6"/><circle cx="752.2" cy="468.2" r="7.6"/><circle cx="759.0" cy="473.5" r="7.6"/><circle cx="766.1" cy="487.3" r="7.6"/><circle cx="773.3" cy="498.0" r="7.6"/><circle cx="780.8" cy="492.7" r="7.6"/><circle cx="787.9" cy="478.4" r="7.6"/><circle cx="794.9" cy="460.5" r="7.6"/><circle cx="801.9" cy="458.3" r="7.6"/><circle cx="809.0" cy="469.9" r="7.6"/><circle cx="816.2" cy="473.2" r="7.6"/><circle cx="823.3" cy="485.2" r="7.6"/><circle cx="830.5" cy="503.0" r="7.6"/><circle cx="837.6" cy="506.1" r="7.6"/><circle cx="845.0" cy="495.0" r="7.6"/><circle cx="851.9" cy="478.0" r="7.6"/><circle cx="858.9" cy="466.4" r="7.6"/><circle cx="866.1" cy="469.1" r="7.6"/><circle cx="873.2" cy="473.2" r="7.6"/><circle cx="880.7" cy="480.1" r="7.6"/><circle cx="887.5" cy="503.4" r="7.6"/><circle cx="894.7" cy="515.6" r="7.6"/><circle cx="901.8" cy="511.4" r="7.6"/><circle cx="909.0" cy="497.3" r="7.6"/><circle cx="916.1" cy="482.5" r="7.6"/><circle cx="923.3" cy="476.2" r="7.6"/><circle cx="930.4" cy="472.6" r="7.6"/><circle cx="937.9" cy="472.3" r="7.6"/><circle cx="944.6" cy="497.7" r="7.6"/><circle cx="951.5" cy="518.2" r="7.6"/><circle cx="958.7" cy="521.8" r="7.6"/><circle cx="965.8" cy="514.1" r="7.6"/><circle cx="973.0" cy="501.8" r="7.6"/><circle cx="980.3" cy="491.4" r="7.6"/><circle cx="987.5" cy="482.5" r="7.6"/><circle cx="994.6" cy="475.3" r="7.6"/><circle cx="1001.6" cy="484.3" r="7.6"/><circle cx="1008.8" cy="515.2" r="7.6"/><circle cx="1015.9" cy="525.0" r="7.6"/><circle cx="1023.1" cy="525.7" r="7.6"/><circle cx="1030.2" cy="520.9" r="7.6"/><circle cx="1037.2" cy="510.2" r="7.6"/><circle cx="1044.5" cy="497.1" r="7.6"/><circle cx="1051.5" cy="481.2" r="7.6"/><circle cx="1058.8" cy="484.6" r="7.6"/><circle cx="1066.0" cy="502.5" r="7.6"/><circle cx="1073.1" cy="523.6" r="7.6"/><circle cx="1080.3" cy="531.1" r="7.6"/><circle cx="1087.4" cy="534.0" r="7.6"/><circle cx="1094.6" cy="529.3" r="7.6"/><circle cx="1101.7" cy="515.6" r="7.6"/><circle cx="1108.7" cy="494.6" r="7.6"/><circle cx="1115.9" cy="485.5" r="7.6"/><circle cx="1123.0" cy="500.4" r="7.6"/><circle cx="1130.2" cy="513.4" r="7.6"/><circle cx="1137.3" cy="529.3" r="7.6"/><circle cx="1144.5" cy="540.1" r="7.6"/><circle cx="1151.6" cy="546.0" r="7.6"/><circle cx="1158.8" cy="536.6" r="7.6"/><circle cx="1165.9" cy="514.7" r="7.6"/><circle cx="1173.1" cy="495.1" r="7.6"/><circle cx="1180.2" cy="499.0" r="7.6"/><circle cx="1187.4" cy="513.3" r="7.6"/><circle cx="1194.5" cy="518.9" r="7.6"/><circle cx="1201.7" cy="540.3" r="7.6"/><circle cx="1208.3" cy="555.3" r="7.6"/><circle cx="1216.0" cy="555.0" r="7.6"/><circle cx="1223.1" cy="536.7" r="7.6"/><circle cx="1229.9" cy="513.9" r="7.6"/><circle cx="1236.9" cy="504.9" r="7.6"/><circle cx="1244.1" cy="509.9" r="7.6"/><circle cx="1251.2" cy="517.1" r="7.6"/><circle cx="1258.4" cy="527.8" r="7.6"/><circle cx="1265.2" cy="555.5" r="7.6"/><circle cx="1272.3" cy="566.3" r="7.6"/><circle cx="1279.5" cy="557.3" r="7.6"/><circle cx="1287.0" cy="535.7" r="7.6"/><circle cx="1294.1" cy="519.8" r="7.6"/><circle cx="1300.9" cy="514.7" r="7.6"/><circle cx="1308.4" cy="514.4" r="7.6"/><circle cx="1315.6" cy="525.5" r="7.6"/><circle cx="1322.4" cy="546.9" r="7.6"/><circle cx="1329.5" cy="569.8" r="7.6"/><circle cx="1336.7" cy="571.1" r="7.6"/><circle cx="1343.8" cy="557.3" r="7.6"/><circle cx="1351.4" cy="540.7" r="7.6"/><circle cx="1358.1" cy="528.7" r="7.6"/><circle cx="1365.7" cy="517.8" r="7.6"/><circle cx="1372.8" cy="519.2" r="7.6"/><circle cx="1379.6" cy="539.8" r="7.6"/><circle cx="1386.8" cy="563.0" r="7.6"/><circle cx="1393.9" cy="575.6" r="7.6"/><circle cx="1401.1" cy="572.5" r="7.6"/><circle cx="1408.2" cy="562.5" r="7.6"/><circle cx="1415.4" cy="548.4" r="7.6"/><circle cx="1422.5" cy="530.8" r="7.6"/><circle cx="1429.7" cy="519.6" r="7.6"/><circle cx="1436.8" cy="530.5" r="7.6"/><circle cx="1444.0" cy="555.9" r="7.6"/><circle cx="1451.1" cy="571.4" r="7.6"/><circle cx="1458.3" cy="579.7" r="7.6"/><circle cx="1465.4" cy="579.7" r="7.6"/><circle cx="1472.6" cy="570.5" r="7.6"/><circle cx="1479.7" cy="551.4" r="7.6"/><circle cx="1486.9" cy="531.2" r="7.6"/><circle cx="1494.0" cy="527.8" r="7.6"/><circle cx="1500.8" cy="545.2" r="7.6"/><circle cx="1508.0" cy="565.2" r="7.6"/><circle cx="1515.5" cy="578.2" r="7.6"/><circle cx="1522.7" cy="587.2" r="7.6"/><circle cx="1529.5" cy="589.0" r="7.6"/><circle cx="1536.6" cy="574.7" r="7.6"/><circle cx="1543.6" cy="549.7" r="7.6"/><circle cx="1550.7" cy="533.6" r="7.6"/><circle cx="1557.9" cy="539.9" r="7.6"/><circle cx="1565.0" cy="555.6" r="7.6"/><circle cx="1572.2" cy="571.2" r="7.6"/><circle cx="1579.3" cy="588.2" r="7.6"/><circle cx="1586.5" cy="598.6" r="7.6"/><circle cx="1593.6" cy="594.5" r="7.6"/><circle cx="1600.8" cy="572.6" r="7.6"/><circle cx="1607.9" cy="549.9" r="7.6"/><circle cx="1615.1" cy="543.5" r="7.6"/><circle cx="1622.3" cy="549.7" r="7.6"/><circle cx="1629.4" cy="562.3" r="7.6"/><circle cx="1636.6" cy="579.4" r="7.6"/><circle cx="1643.7" cy="600.4" r="7.6"/><circle cx="1650.9" cy="607.5" r="7.6"/><circle cx="1658.0" cy="594.1" r="7.6"/><circle cx="1665.2" cy="572.3" r="7.6"/><circle cx="1672.3" cy="556.9" r="7.6"/><circle cx="1679.5" cy="551.2" r="7.6"/><circle cx="1686.6" cy="554.7" r="7.6"/><circle cx="1693.8" cy="569.1" r="7.6"/><circle cx="1700.9" cy="592.7" r="7.6"/><circle cx="1708.1" cy="612.0" r="7.6"/><circle cx="1715.2" cy="608.4" r="7.6"/><circle cx="1722.4" cy="594.1" r="7.6"/><circle cx="1729.5" cy="577.5" r="7.6"/><circle cx="1736.7" cy="562.8" r="7.6"/><circle cx="1743.8" cy="555.3" r="7.6"/><circle cx="1751.0" cy="561.0" r="7.6"/><circle cx="1757.8" cy="581.2" r="7.6"/><circle cx="1764.9" cy="603.0" r="7.6"/><circle cx="1772.1" cy="615.2" r="7.6"/><circle cx="1779.2" cy="609.3" r="7.6"/><circle cx="1786.4" cy="598.6" r="7.6"/><circle cx="1793.6" cy="581.9" r="7.6"/><circle cx="1800.7" cy="563.7" r="7.6"/><circle cx="1807.9" cy="557.4" r="7.6"/><circle cx="1815.0" cy="571.2" r="7.6"/><circle cx="1822.2" cy="593.2" r="7.6"/><circle cx="1829.3" cy="609.3" r="7.6"/><circle cx="1836.5" cy="616.4" r="7.6"/><circle cx="1843.6" cy="615.9" r="7.6"/><circle cx="1850.8" cy="604.3" r="7.6"/><circle cx="1857.6" cy="583.0" r="7.6"/><circle cx="1864.7" cy="564.6" r="7.6"/><circle cx="1871.9" cy="566.4" r="7.6"/><circle cx="1879.0" cy="583.4" r="7.6"/><circle cx="1886.2" cy="600.0" r="7.6"/><circle cx="1893.3" cy="612.0" r="7.6"/><circle cx="1900.5" cy="622.7" r="7.6"/><circle cx="1907.6" cy="621.5" r="7.6"/><circle cx="1915.1" cy="604.5" r="7.6"/><circle cx="1921.9" cy="581.2" r="7.6"/><circle cx="1929.1" cy="570.5" r="7.6"/><circle cx="1936.2" cy="577.1" r="7.6"/><circle cx="1943.4" cy="588.3" r="7.6"/><circle cx="1950.5" cy="603.0" r="7.6"/><circle cx="1957.7" cy="618.4" r="7.6"/><circle cx="1964.5" cy="632.1" r="7.6"/><circle cx="1971.6" cy="624.5" r="7.6"/><circle cx="1979.2" cy="602.1" r="7.6"/><circle cx="1985.9" cy="583.3" r="7.6"/><circle cx="1993.1" cy="578.5" r="7.6"/><circle cx="2000.3" cy="580.6" r="7.6"/><circle cx="2007.4" cy="593.3" r="7.6"/><circle cx="2014.6" cy="610.1" r="7.6"/><circle cx="2021.7" cy="628.6" r="7.6"/><circle cx="2028.9" cy="633.9" r="7.6"/><circle cx="2036.0" cy="621.4" r="7.6"/><circle cx="2043.2" cy="602.1" r="7.6"/><circle cx="2050.3" cy="588.3" r="7.6"/><circle cx="2057.5" cy="582.4" r="7.6"/><circle cx="2064.6" cy="586.0" r="7.6"/><circle cx="2071.8" cy="601.7" r="7.6"/><circle cx="2078.9" cy="621.4" r="7.6"/><circle cx="2086.1" cy="633.9" r="7.6"/><circle cx="2093.2" cy="632.7" r="7.6"/><circle cx="2100.4" cy="623.2" r="7.6"/><circle cx="2107.5" cy="607.5" r="7.6"/><circle cx="2114.7" cy="591.5" r="7.6"/><circle cx="2121.8" cy="584.7" r="7.6"/><circle cx="2128.6" cy="593.2" r="7.6"/><circle cx="2135.8" cy="611.0" r="7.6"/><circle cx="2142.9" cy="626.8" r="7.6"/><circle cx="2150.1" cy="632.7" r="7.6"/><circle cx="2157.3" cy="634.5" r="7.6"/>
</g>
<g fill="#c3b654" shape-rendering="crispEdges">
<circle cx="351.1" cy="340.5" r="7.6"/><circle cx="358.4" cy="359.6" r="7.6"/><circle cx="365.9" cy="363.7" r="7.6"/><circle cx="373.1" cy="351.6" r="7.6"/><circle cx="380.6" cy="336.7" r="7.6"/><circle cx="387.4" cy="312.6" r="7.6"/><circle cx="394.5" cy="312.2" r="7.6"/><circle cx="401.7" cy="306.5" r="7.6"/><circle cx="408.5" cy="329.2" r="7.6"/><circle cx="415.6" cy="352.5" r="7.6"/><circle cx="423.1" cy="364.1" r="7.6"/><circle cx="429.9" cy="368.6" r="7.6"/><circle cx="437.5" cy="353.0" r="7.6"/><circle cx="444.6" cy="339.6" r="7.6"/><circle cx="451.8" cy="329.6" r="7.6"/><circle cx="458.6" cy="314.4" r="7.6"/><circle cx="465.7" cy="322.1" r="7.6"/><circle cx="472.7" cy="344.4" r="7.6"/><circle cx="480.0" cy="361.0" r="7.6"/><circle cx="487.5" cy="371.2" r="7.6"/><circle cx="494.7" cy="373.6" r="7.6"/><circle cx="501.5" cy="356.9" r="7.6"/><circle cx="508.6" cy="350.3" r="7.6"/><circle cx="516.1" cy="334.6" r="7.6"/><circle cx="522.9" cy="320.6" r="7.6"/><circle cx="529.9" cy="339.0" r="7.6"/><circle cx="537.0" cy="355.1" r="7.6"/><circle cx="543.8" cy="366.8" r="7.6"/><circle cx="551.0" cy="378.4" r="7.6"/><circle cx="558.5" cy="378.7" r="7.6"/><circle cx="565.8" cy="375.3" r="7.6"/><circle cx="572.8" cy="356.9" r="7.6"/><circle cx="580.1" cy="332.8" r="7.6"/><circle cx="586.8" cy="337.3" r="7.6"/><circle cx="593.9" cy="351.6" r="7.6"/><circle cx="601.1" cy="359.6" r="7.6"/><circle cx="608.2" cy="373.6" r="7.6"/><circle cx="615.4" cy="383.8" r="7.6"/><circle cx="622.9" cy="383.8" r="7.6"/><circle cx="630.0" cy="379.3" r="7.6"/><circle cx="636.8" cy="355.1" r="7.6"/><circle cx="644.0" cy="342.6" r="7.6"/><circle cx="651.1" cy="353.4" r="7.6"/><circle cx="658.3" cy="356.9" r="7.6"/><circle cx="665.4" cy="367.7" r="7.6"/><circle cx="672.6" cy="385.5" r="7.6"/><circle cx="679.7" cy="390.9" r="7.6"/><circle cx="686.9" cy="389.1" r="7.6"/><circle cx="693.7" cy="372.1" r="7.6"/><circle cx="701.2" cy="357.5" r="7.6"/><circle cx="708.4" cy="359.6" r="7.6"/><circle cx="715.5" cy="360.5" r="7.6"/><circle cx="722.7" cy="363.2" r="7.6"/><circle cx="729.8" cy="382.0" r="7.6"/><circle cx="736.1" cy="390.9" r="7.6"/><circle cx="743.6" cy="395.1" r="7.6"/><circle cx="750.7" cy="392.8" r="7.6"/><circle cx="757.9" cy="379.6" r="7.6"/><circle cx="765.0" cy="371.2" r="7.6"/><circle cx="772.2" cy="368.3" r="7.6"/><circle cx="779.3" cy="362.8" r="7.6"/><circle cx="786.5" cy="377.8" r="7.6"/><circle cx="793.6" cy="394.2" r="7.6"/><circle cx="800.8" cy="400.0" r="7.6"/><circle cx="807.9" cy="400.5" r="7.6"/><circle cx="815.1" cy="392.5" r="7.6"/><circle cx="822.3" cy="386.0" r="7.6"/><circle cx="829.4" cy="382.6" r="7.6"/><circle cx="836.6" cy="369.4" r="7.6"/><circle cx="843.7" cy="375.5" r="7.6"/><circle cx="851.2" cy="394.2" r="7.6"/><circle cx="858.4" cy="401.4" r="7.6"/><circle cx="865.5" cy="405.7" r="7.6"/><circle cx="872.7" cy="403.4" r="7.6"/><circle cx="879.8" cy="396.9" r="7.6"/><circle cx="887.0" cy="391.6" r="7.6"/><circle cx="894.1" cy="380.8" r="7.6"/><circle cx="900.9" cy="376.0" r="7.6"/><circle cx="908.1" cy="392.5" r="7.6"/><circle cx="915.2" cy="400.1" r="7.6"/><circle cx="922.4" cy="406.0" r="7.6"/><circle cx="929.5" cy="409.8" r="7.6"/><circle cx="936.7" cy="407.5" r="7.6"/><circle cx="943.8" cy="406.8" r="7.6"/><circle cx="951.0" cy="395.1" r="7.6"/><circle cx="957.8" cy="382.4" r="7.6"/><circle cx="964.9" cy="393.4" r="7.6"/><circle cx="972.1" cy="403.2" r="7.6"/><circle cx="979.2" cy="406.0" r="7.6"/><circle cx="986.4" cy="413.9" r="7.6"/><circle cx="993.6" cy="415.7" r="7.6"/><circle cx="1000.7" cy="415.7" r="7.6"/><circle cx="1007.9" cy="412.0" r="7.6"/><circle cx="1015.4" cy="392.5" r="7.6"/><circle cx="1022.2" cy="397.8" r="7.6"/><circle cx="1029.3" cy="407.3" r="7.6"/><circle cx="1036.5" cy="408.6" r="7.6"/><circle cx="1043.6" cy="414.8" r="7.6"/><circle cx="1050.8" cy="422.0" r="7.6"/><circle cx="1057.9" cy="423.8" r="7.6"/><circle cx="1065.1" cy="422.9" r="7.6"/><circle cx="1072.2" cy="407.7" r="7.6"/><circle cx="1079.0" cy="398.4" r="7.6"/><circle cx="1086.2" cy="412.1" r="7.6"/><circle cx="1093.3" cy="412.1" r="7.6"/><circle cx="1100.5" cy="414.8" r="7.6"/><circle cx="1107.6" cy="425.5" r="7.6"/><circle cx="1114.8" cy="430.0" r="7.6"/><circle cx="1121.9" cy="430.9" r="7.6"/><circle cx="1129.1" cy="422.9" r="7.6"/><circle cx="1136.2" cy="410.3" r="7.6"/><circle cx="1143.2" cy="416.5" r="7.6"/><circle cx="1150.4" cy="417.6" r="7.6"/><circle cx="1157.5" cy="415.2" r="7.6"/><circle cx="1164.7" cy="426.5" r="7.6"/><circle cx="1171.8" cy="434.4" r="7.6"/><circle cx="1179.0" cy="437.9" r="7.6"/><circle cx="1186.1" cy="432.6" r="7.6"/><circle cx="1192.9" cy="421.5" r="7.6"/><circle cx="1200.1" cy="424.7" r="7.6"/><circle cx="1207.2" cy="428.6" r="7.6"/><circle cx="1214.4" cy="419.3" r="7.6"/><circle cx="1221.5" cy="426.5" r="7.6"/><circle cx="1228.7" cy="439.9" r="7.6"/><circle cx="1235.8" cy="443.8" r="7.6"/><circle cx="1243.0" cy="440.8" r="7.6"/><circle cx="1249.8" cy="432.2" r="7.6"/><circle cx="1256.9" cy="432.6" r="7.6"/><circle cx="1264.1" cy="435.4" r="7.6"/><circle cx="1271.2" cy="431.3" r="7.6"/><circle cx="1278.8" cy="428.3" r="7.6"/><circle cx="1285.9" cy="442.9" r="7.6"/><circle cx="1293.1" cy="448.7" r="7.6"/><circle cx="1300.2" cy="446.2" r="7.6"/><circle cx="1307.4" cy="442.1" r="7.6"/><circle cx="1314.5" cy="441.2" r="7.6"/><circle cx="1321.7" cy="444.7" r="7.6"/><circle cx="1328.8" cy="435.3" r="7.6"/><circle cx="1336.0" cy="437.9" r="7.6"/><circle cx="1343.1" cy="445.6" r="7.6"/><circle cx="1350.3" cy="453.7" r="7.6"/><circle cx="1357.4" cy="454.0" r="7.6"/><circle cx="1364.6" cy="451.9" r="7.6"/><circle cx="1371.7" cy="450.6" r="7.6"/><circle cx="1378.9" cy="452.2" r="7.6"/><circle cx="1386.0" cy="446.0" r="7.6"/><circle cx="1393.2" cy="436.2" r="7.6"/><circle cx="1400.3" cy="442.6" r="7.6"/><circle cx="1407.1" cy="458.7" r="7.6"/><circle cx="1414.3" cy="458.7" r="7.6"/><circle cx="1421.4" cy="459.0" r="7.6"/><circle cx="1428.6" cy="459.6" r="7.6"/><circle cx="1435.8" cy="461.7" r="7.6"/><circle cx="1442.9" cy="456.4" r="7.6"/><circle cx="1450.1" cy="444.2" r="7.6"/><circle cx="1457.2" cy="450.1" r="7.6"/><circle cx="1464.4" cy="459.6" r="7.6"/><circle cx="1471.5" cy="463.9" r="7.6"/><circle cx="1478.7" cy="464.4" r="7.6"/><circle cx="1485.8" cy="468.0" r="7.6"/><circle cx="1493.0" cy="470.7" r="7.6"/><circle cx="1500.1" cy="467.1" r="7.6"/><circle cx="1507.3" cy="454.0" r="7.6"/><circle cx="1514.4" cy="453.3" r="7.6"/><circle cx="1521.6" cy="468.0" r="7.6"/><circle cx="1528.7" cy="463.5" r="7.6"/><circle cx="1535.9" cy="469.8" r="7.6"/><circle cx="1543.2" cy="476.0" r="7.6"/><circle cx="1550.4" cy="480.1" r="7.6"/><circle cx="1557.5" cy="477.7" r="7.6"/><circle cx="1564.7" cy="465.2" r="7.6"/><circle cx="1571.8" cy="459.3" r="7.6"/><circle cx="1579.0" cy="470.6" r="7.6"/><circle cx="1586.1" cy="476.5" r="7.6"/><circle cx="1593.3" cy="476.9" r="7.6"/><circle cx="1600.4" cy="481.9" r="7.6"/><circle cx="1607.6" cy="488.8" r="7.6"/><circle cx="1614.7" cy="487.9" r="7.6"/><circle cx="1621.9" cy="477.4" r="7.6"/><circle cx="1628.5" cy="467.9" r="7.6"/><circle cx="1635.7" cy="474.2" r="7.6"/><circle cx="1642.8" cy="482.2" r="7.6"/><circle cx="1650.0" cy="478.6" r="7.6"/><circle cx="1657.1" cy="485.8" r="7.6"/><circle cx="1664.3" cy="496.5" r="7.6"/><circle cx="1671.4" cy="497.4" r="7.6"/><circle cx="1678.6" cy="488.5" r="7.6"/><circle cx="1685.4" cy="477.4" r="7.6"/><circle cx="1692.5" cy="480.4" r="7.6"/><circle cx="1699.7" cy="487.2" r="7.6"/><circle cx="1706.8" cy="482.2" r="7.6"/><circle cx="1714.0" cy="487.2" r="7.6"/><circle cx="1721.1" cy="500.1" r="7.6"/><circle cx="1728.3" cy="507.8" r="7.6"/><circle cx="1735.4" cy="500.1" r="7.6"/><circle cx="1742.6" cy="489.4" r="7.6"/><circle cx="1749.7" cy="488.1" r="7.6"/><circle cx="1756.9" cy="492.6" r="7.6"/><circle cx="1764.1" cy="488.5" r="7.6"/><circle cx="1771.2" cy="487.2" r="7.6"/><circle cx="1778.4" cy="505.5" r="7.6"/><circle cx="1785.5" cy="516.7" r="7.6"/><circle cx="1792.7" cy="510.8" r="7.6"/><circle cx="1799.8" cy="501.0" r="7.6"/><circle cx="1807.0" cy="497.4" r="7.6"/><circle cx="1814.1" cy="499.7" r="7.6"/><circle cx="1821.3" cy="493.8" r="7.6"/><circle cx="1828.1" cy="488.1" r="7.6"/><circle cx="1835.2" cy="503.7" r="7.6"/><circle cx="1842.4" cy="520.3" r="7.6"/><circle cx="1849.5" cy="521.6" r="7.6"/><circle cx="1856.7" cy="511.2" r="7.6"/><circle cx="1863.8" cy="508.1" r="7.6"/><circle cx="1871.0" cy="509.4" r="7.6"/><circle cx="1878.1" cy="501.9" r="7.6"/><circle cx="1884.9" cy="491.2" r="7.6"/><circle cx="1892.1" cy="502.2" r="7.6"/><circle cx="1899.2" cy="522.1" r="7.6"/><circle cx="1906.4" cy="526.0" r="7.6"/><circle cx="1913.5" cy="518.3" r="7.6"/><circle cx="1920.7" cy="519.8" r="7.6"/><circle cx="1927.8" cy="520.7" r="7.6"/><circle cx="1935.0" cy="513.5" r="7.6"/><circle cx="1942.1" cy="498.1" r="7.6"/><circle cx="1949.3" cy="500.4" r="7.6"/><circle cx="1956.4" cy="519.7" r="7.6"/><circle cx="1963.6" cy="528.1" r="7.6"/><circle cx="1970.8" cy="525.5" r="7.6"/><circle cx="1977.9" cy="526.4" r="7.6"/><circle cx="1985.1" cy="532.6" r="7.6"/><circle cx="1992.2" cy="526.4" r="7.6"/><circle cx="1999.4" cy="508.8" r="7.6"/><circle cx="2006.5" cy="502.2" r="7.6"/><circle cx="2013.7" cy="517.1" r="7.6"/><circle cx="2020.8" cy="528.1" r="7.6"/><circle cx="2028.0" cy="529.9" r="7.6"/><circle cx="2035.1" cy="535.3" r="7.6"/><circle cx="2042.3" cy="548.7" r="7.6"/><circle cx="2049.4" cy="538.9" r="7.6"/><circle cx="2056.6" cy="521.9" r="7.6"/><circle cx="2063.7" cy="509.9" r="7.6"/><circle cx="2070.9" cy="516.5" r="7.6"/><circle cx="2078.0" cy="526.9" r="7.6"/><circle cx="2085.2" cy="529.0" r="7.6"/><circle cx="2092.3" cy="537.1" r="7.6"/><circle cx="2099.5" cy="549.6" r="7.6"/><circle cx="2106.6" cy="557.7" r="7.6"/><circle cx="2113.4" cy="536.7" r="7.6"/><circle cx="2120.6" cy="520.1" r="7.6"/><circle cx="2127.7" cy="520.6" r="7.6"/><circle cx="2134.9" cy="526.0" r="7.6"/><circle cx="2142.1" cy="526.9" r="7.6"/><circle cx="2149.2" cy="533.0" r="7.6"/><circle cx="2156.4" cy="552.8" r="7.6"/>
</g>
<g fill="#00aeef" shape-rendering="crispEdges">
<circle cx="350.4" cy="179.0" r="7.6"/><circle cx="357.3" cy="199.5" r="7.6"/><circle cx="364.0" cy="224.6" r="7.6"/><circle cx="371.3" cy="262.1" r="7.6"/><circle cx="378.8" cy="276.4" r="7.6"/><circle cx="386.1" cy="273.8" r="7.6"/><circle cx="393.6" cy="267.1" r="7.6"/><circle cx="401.0" cy="248.2" r="7.6"/><circle cx="407.9" cy="212.1" r="7.6"/><circle cx="415.1" cy="204.0" r="7.6"/><circle cx="421.4" cy="206.2" r="7.6"/><circle cx="428.3" cy="243.5" r="7.6"/><circle cx="435.7" cy="271.1" r="7.6"/><circle cx="442.8" cy="284.9" r="7.6"/><circle cx="450.3" cy="282.2" r="7.6"/><circle cx="457.7" cy="278.2" r="7.6"/><circle cx="465.5" cy="252.7" r="7.6"/><circle cx="472.0" cy="221.0" r="7.6"/><circle cx="479.1" cy="212.4" r="7.6"/><circle cx="485.6" cy="223.7" r="7.6"/><circle cx="492.5" cy="260.0" r="7.6"/><circle cx="500.0" cy="280.4" r="7.6"/><circle cx="507.2" cy="297.0" r="7.6"/><circle cx="514.3" cy="292.9" r="7.6"/><circle cx="522.0" cy="285.4" r="7.6"/><circle cx="529.5" cy="258.2" r="7.6"/><circle cx="536.3" cy="237.6" r="7.6"/><circle cx="543.1" cy="213.5" r="7.6"/><circle cx="549.9" cy="243.9" r="7.6"/><circle cx="556.7" cy="269.8" r="7.6"/><circle cx="564.2" cy="291.3" r="7.6"/><circle cx="571.6" cy="304.2" r="7.6"/><circle cx="578.7" cy="313.1" r="7.6"/><circle cx="586.4" cy="289.0" r="7.6"/><circle cx="593.6" cy="270.2" r="7.6"/><circle cx="600.2" cy="243.9" r="7.6"/><circle cx="607.0" cy="237.5" r="7.6"/><circle cx="614.3" cy="261.8" r="7.6"/><circle cx="621.3" cy="278.6" r="7.6"/><circle cx="628.4" cy="303.3" r="7.6"/><circle cx="635.9" cy="315.8" r="7.6"/><circle cx="643.1" cy="308.6" r="7.6"/><circle cx="650.4" cy="295.6" r="7.6"/><circle cx="657.9" cy="272.9" r="7.6"/><circle cx="664.5" cy="241.2" r="7.6"/><circle cx="671.3" cy="254.1" r="7.6"/><circle cx="678.3" cy="264.8" r="7.6"/><circle cx="685.5" cy="289.0" r="7.6"/><circle cx="693.2" cy="312.6" r="7.6"/><circle cx="699.9" cy="323.5" r="7.6"/><circle cx="707.5" cy="320.3" r="7.6"/><circle cx="715.0" cy="304.7" r="7.6"/><circle cx="721.8" cy="273.8" r="7.6"/><circle cx="728.9" cy="262.7" r="7.6"/><circle cx="736.1" cy="267.5" r="7.6"/><circle cx="742.7" cy="276.2" r="7.6"/><circle cx="749.8" cy="307.5" r="7.6"/><circle cx="757.3" cy="323.2" r="7.6"/><circle cx="764.5" cy="329.0" r="7.6"/><circle cx="771.6" cy="321.8" r="7.6"/><circle cx="779.0" cy="305.7" r="7.6"/><circle cx="786.0" cy="282.5" r="7.6"/><circle cx="793.1" cy="276.2" r="7.6"/><circle cx="800.1" cy="269.6" r="7.6"/><circle cx="807.1" cy="296.8" r="7.6"/><circle cx="814.2" cy="317.7" r="7.6"/><circle cx="821.4" cy="331.6" r="7.6"/><circle cx="828.5" cy="337.9" r="7.6"/><circle cx="835.8" cy="329.3" r="7.6"/><circle cx="843.0" cy="308.0" r="7.6"/><circle cx="850.1" cy="294.1" r="7.6"/><circle cx="857.1" cy="276.2" r="7.6"/><circle cx="863.9" cy="284.8" r="7.6"/><circle cx="871.1" cy="309.3" r="7.6"/><circle cx="878.4" cy="323.6" r="7.6"/><circle cx="885.6" cy="338.8" r="7.6"/><circle cx="892.9" cy="345.1" r="7.6"/><circle cx="900.4" cy="331.1" r="7.6"/><circle cx="907.4" cy="316.8" r="7.6"/><circle cx="914.3" cy="298.6" r="7.6"/><circle cx="921.3" cy="284.6" r="7.6"/><circle cx="928.3" cy="304.3" r="7.6"/><circle cx="935.6" cy="316.8" r="7.6"/><circle cx="942.4" cy="334.3" r="7.6"/><circle cx="949.6" cy="347.7" r="7.6"/><circle cx="956.9" cy="344.2" r="7.6"/><circle cx="964.4" cy="338.8" r="7.6"/><circle cx="971.6" cy="320.4" r="7.6"/><circle cx="978.4" cy="296.2" r="7.6"/><circle cx="985.3" cy="302.5" r="7.6"/><circle cx="992.5" cy="312.0" r="7.6"/><circle cx="999.6" cy="324.9" r="7.6"/><circle cx="1006.8" cy="343.6" r="7.6"/><circle cx="1013.9" cy="354.0" r="7.6"/><circle cx="1021.3" cy="348.6" r="7.6"/><circle cx="1028.4" cy="344.2" r="7.6"/><circle cx="1035.4" cy="317.9" r="7.6"/><circle cx="1042.5" cy="307.1" r="7.6"/><circle cx="1049.7" cy="313.2" r="7.6"/><circle cx="1056.5" cy="317.3" r="7.6"/><circle cx="1063.6" cy="336.1" r="7.6"/><circle cx="1071.2" cy="352.2" r="7.6"/><circle cx="1078.3" cy="356.7" r="7.6"/><circle cx="1085.5" cy="355.3" r="7.6"/><circle cx="1092.6" cy="339.3" r="7.6"/><circle cx="1099.8" cy="321.5" r="7.6"/><circle cx="1106.9" cy="320.9" r="7.6"/><circle cx="1114.1" cy="316.8" r="7.6"/><circle cx="1120.9" cy="328.6" r="7.6"/><circle cx="1128.0" cy="347.7" r="7.6"/><circle cx="1135.2" cy="359.9" r="7.6"/><circle cx="1142.7" cy="365.7" r="7.6"/><circle cx="1149.8" cy="357.5" r="7.6"/><circle cx="1157.3" cy="337.4" r="7.6"/><circle cx="1164.5" cy="331.5" r="7.6"/><circle cx="1171.6" cy="324.9" r="7.6"/><circle cx="1178.1" cy="322.6" r="7.6"/><circle cx="1185.1" cy="341.9" r="7.6"/><circle cx="1192.2" cy="356.6" r="7.6"/><circle cx="1199.4" cy="363.4" r="7.6"/><circle cx="1206.5" cy="367.8" r="7.6"/><circle cx="1213.7" cy="355.3" r="7.6"/><circle cx="1220.8" cy="348.5" r="7.6"/><circle cx="1228.0" cy="339.2" r="7.6"/><circle cx="1235.1" cy="324.4" r="7.6"/><circle cx="1241.9" cy="337.8" r="7.6"/><circle cx="1249.3" cy="353.5" r="7.6"/><circle cx="1256.2" cy="362.8" r="7.6"/><circle cx="1263.4" cy="370.5" r="7.6"/><circle cx="1270.5" cy="368.7" r="7.6"/><circle cx="1278.0" cy="360.7" r="7.6"/><circle cx="1285.2" cy="356.2" r="7.6"/><circle cx="1292.3" cy="336.9" r="7.6"/><circle cx="1299.7" cy="335.3" r="7.6"/><circle cx="1306.7" cy="352.3" r="7.6"/><circle cx="1313.4" cy="359.8" r="7.6"/><circle cx="1320.6" cy="369.1" r="7.6"/><circle cx="1327.8" cy="376.8" r="7.6"/><circle cx="1334.9" cy="373.2" r="7.6"/><circle cx="1342.1" cy="369.6" r="7.6"/><circle cx="1349.6" cy="360.1" r="7.6"/><circle cx="1356.4" cy="340.5" r="7.6"/><circle cx="1363.5" cy="351.7" r="7.6"/><circle cx="1370.7" cy="357.5" r="7.6"/><circle cx="1377.8" cy="366.0" r="7.6"/><circle cx="1385.0" cy="377.7" r="7.6"/><circle cx="1392.1" cy="383.0" r="7.6"/><circle cx="1399.3" cy="382.5" r="7.6"/><circle cx="1406.4" cy="371.4" r="7.6"/><circle cx="1413.6" cy="353.5" r="7.6"/><circle cx="1420.7" cy="355.3" r="7.6"/><circle cx="1427.9" cy="359.8" r="7.6"/><circle cx="1435.0" cy="362.5" r="7.6"/><circle cx="1442.2" cy="375.9" r="7.6"/><circle cx="1449.0" cy="386.6" r="7.6"/><circle cx="1456.1" cy="390.7" r="7.6"/><circle cx="1463.3" cy="386.6" r="7.6"/><circle cx="1470.4" cy="368.7" r="7.6"/><circle cx="1477.6" cy="361.6" r="7.6"/><circle cx="1484.7" cy="366.0" r="7.6"/><circle cx="1491.5" cy="361.2" r="7.6"/><circle cx="1498.7" cy="372.7" r="7.6"/><circle cx="1506.2" cy="387.5" r="7.6"/><circle cx="1513.4" cy="394.7" r="7.6"/><circle cx="1520.5" cy="396.8" r="7.6"/><circle cx="1527.7" cy="385.7" r="7.6"/><circle cx="1535.2" cy="376.8" r="7.6"/><circle cx="1541.8" cy="381.7" r="7.6"/><circle cx="1548.9" cy="368.1" r="7.6"/><circle cx="1556.1" cy="369.5" r="7.6"/><circle cx="1563.2" cy="386.0" r="7.6"/><circle cx="1570.4" cy="395.8" r="7.6"/><circle cx="1577.6" cy="402.6" r="7.6"/><circle cx="1584.7" cy="399.9" r="7.6"/><circle cx="1591.9" cy="390.5" r="7.6"/><circle cx="1599.0" cy="389.2" r="7.6"/><circle cx="1606.2" cy="384.7" r="7.6"/><circle cx="1613.3" cy="370.4" r="7.6"/><circle cx="1620.5" cy="383.9" r="7.6"/><circle cx="1627.6" cy="396.9" r="7.6"/><circle cx="1634.8" cy="404.4" r="7.6"/><circle cx="1641.9" cy="408.5" r="7.6"/><circle cx="1649.1" cy="402.6" r="7.6"/><circle cx="1656.2" cy="402.3" r="7.6"/><circle cx="1663.4" cy="395.1" r="7.6"/><circle cx="1670.5" cy="380.8" r="7.6"/><circle cx="1677.7" cy="384.7" r="7.6"/><circle cx="1684.8" cy="398.2" r="7.6"/><circle cx="1692.0" cy="405.0" r="7.6"/><circle cx="1699.1" cy="411.6" r="7.6"/><circle cx="1706.3" cy="413.0" r="7.6"/><circle cx="1713.4" cy="413.9" r="7.6"/><circle cx="1720.6" cy="410.1" r="7.6"/><circle cx="1727.2" cy="391.9" r="7.6"/><circle cx="1734.4" cy="387.1" r="7.6"/><circle cx="1741.5" cy="399.1" r="7.6"/><circle cx="1748.7" cy="403.5" r="7.6"/><circle cx="1755.8" cy="411.6" r="7.6"/><circle cx="1763.0" cy="417.8" r="7.6"/><circle cx="1770.1" cy="421.9" r="7.6"/><circle cx="1777.3" cy="425.0" r="7.6"/><circle cx="1784.4" cy="408.9" r="7.6"/><circle cx="1791.6" cy="395.1" r="7.6"/><circle cx="1798.7" cy="400.3" r="7.6"/><circle cx="1805.9" cy="405.7" r="7.6"/><circle cx="1813.0" cy="409.4" r="7.6"/><circle cx="1820.2" cy="418.7" r="7.6"/><circle cx="1827.3" cy="426.8" r="7.6"/><circle cx="1834.5" cy="433.6" r="7.6"/><circle cx="1841.7" cy="424.1" r="7.6"/><circle cx="1848.8" cy="408.0" r="7.6"/><circle cx="1856.0" cy="410.7" r="7.6"/><circle cx="1863.1" cy="412.1" r="7.6"/><circle cx="1869.9" cy="408.0" r="7.6"/><circle cx="1877.1" cy="418.2" r="7.6"/><circle cx="1884.2" cy="428.0" r="7.6"/><circle cx="1891.4" cy="437.5" r="7.6"/><circle cx="1898.5" cy="435.2" r="7.6"/><circle cx="1905.7" cy="421.9" r="7.6"/><circle cx="1912.8" cy="420.2" r="7.6"/><circle cx="1920.0" cy="422.7" r="7.6"/><circle cx="1927.1" cy="411.2" r="7.6"/><circle cx="1934.3" cy="417.8" r="7.6"/><circle cx="1941.4" cy="428.4" r="7.6"/><circle cx="1948.6" cy="438.7" r="7.6"/><circle cx="1955.7" cy="442.8" r="7.6"/><circle cx="1962.9" cy="434.3" r="7.6"/><circle cx="1970.0" cy="432.5" r="7.6"/><circle cx="1977.2" cy="435.2" r="7.6"/><circle cx="1984.0" cy="425.0" r="7.6"/><circle cx="1991.1" cy="419.1" r="7.6"/><circle cx="1998.3" cy="428.9" r="7.6"/><circle cx="2005.4" cy="438.7" r="7.6"/><circle cx="2012.6" cy="445.9" r="7.6"/><circle cx="2019.7" cy="443.2" r="7.6"/><circle cx="2026.9" cy="441.4" r="7.6"/><circle cx="2034.0" cy="446.8" r="7.6"/><circle cx="2041.2" cy="438.2" r="7.6"/><circle cx="2048.4" cy="425.3" r="7.6"/><circle cx="2055.5" cy="429.2" r="7.6"/><circle cx="2062.7" cy="441.4" r="7.6"/><circle cx="2069.8" cy="447.3" r="7.6"/><circle cx="2077.0" cy="447.7" r="7.6"/><circle cx="2084.1" cy="447.7" r="7.6"/><circle cx="2090.9" cy="456.1" r="7.6"/><circle cx="2098.1" cy="453.0" r="7.6"/><circle cx="2105.2" cy="436.4" r="7.6"/><circle cx="2112.4" cy="436.6" r="7.6"/><circle cx="2119.5" cy="452.1" r="7.6"/><circle cx="2126.7" cy="448.6" r="7.6"/><circle cx="2133.8" cy="449.8" r="7.6"/><circle cx="2141.0" cy="452.1" r="7.6"/><circle cx="2148.1" cy="458.9" r="7.6"/><circle cx="2155.3" cy="464.1" r="7.6"/>
</g>
<text><tspan x="289.28" y="1210.00" font-size="77" textLength="115.67" lengthAdjust="spacingAndGlyphs">350</tspan></text>
<text><tspan x="653.96" y="1210.00" font-size="77" textLength="112.18" lengthAdjust="spacingAndGlyphs">400</tspan></text>
<text><tspan x="1016.60" y="1210.00" font-size="77" textLength="112.55" lengthAdjust="spacingAndGlyphs">450</tspan></text>
<text><tspan x="1376.59" y="1210.00" font-size="77" textLength="114.75" lengthAdjust="spacingAndGlyphs">500</tspan></text>
<text><tspan x="1739.51" y="1210.00" font-size="77" textLength="115.29" lengthAdjust="spacingAndGlyphs">550</tspan></text>
<text><tspan x="2101.57" y="1210.00" font-size="77" textLength="115.07" lengthAdjust="spacingAndGlyphs">600</tspan></text>
<text><tspan x="210.94" y="107.00" font-size="77" textLength="75.88" lengthAdjust="spacingAndGlyphs">10</tspan><tspan x="286.53" y="79.50" font-size="54" textLength="28.33" lengthAdjust="spacingAndGlyphs">0</tspan></text>
<text><tspan x="163.26" y="459.80" font-size="77" textLength="76.38" lengthAdjust="spacingAndGlyphs">10</tspan><tspan x="241.47" y="437.20" font-size="54" textLength="42.99" lengthAdjust="spacingAndGlyphs">−</tspan><tspan x="285.97" y="433.00" font-size="54" textLength="28.99" lengthAdjust="spacingAndGlyphs">1</tspan></text>
<text><tspan x="163.26" y="812.40" font-size="77" textLength="76.38" lengthAdjust="spacingAndGlyphs">10</tspan><tspan x="241.47" y="789.80" font-size="54" textLength="42.99" lengthAdjust="spacingAndGlyphs">−</tspan><tspan x="286.89" y="785.60" font-size="54" textLength="30.11" lengthAdjust="spacingAndGlyphs">2</tspan></text>
<text><tspan x="163.26" y="1165.00" font-size="77" textLength="76.38" lengthAdjust="spacingAndGlyphs">10</tspan><tspan x="241.47" y="1142.40" font-size="54" textLength="42.99" lengthAdjust="spacingAndGlyphs">−</tspan><tspan x="285.55" y="1138.20" font-size="54" textLength="29.65" lengthAdjust="spacingAndGlyphs">3</tspan></text>
<text><tspan x="22.82" y="634.80" font-size="77" textLength="55.70" lengthAdjust="spacingAndGlyphs">−</tspan><tspan x="80.90" y="628.10" font-size="78" textLength="88.74" lengthAdjust="spacingAndGlyphs">Im</tspan> <tspan x="184.63" y="628.10" font-size="78" font-style="italic" stroke="#fff" stroke-width="0.9" textLength="36.88" lengthAdjust="spacingAndGlyphs">k</tspan><tspan x="229.85" y="628.10" font-size="78" font-style="italic" stroke="#fff" stroke-width="0.9" textLength="55.45" lengthAdjust="spacingAndGlyphs">R</tspan></text>
<text><tspan x="1152.48" y="1271.30" font-size="78" textLength="89.36" lengthAdjust="spacingAndGlyphs">Re</tspan> <tspan x="1255.76" y="1271.30" font-size="78" font-style="italic" stroke="#fff" stroke-width="0.9" textLength="34.85" lengthAdjust="spacingAndGlyphs">k</tspan><tspan x="1300.38" y="1271.30" font-size="78" font-style="italic" stroke="#fff" stroke-width="0.9" textLength="54.78" lengthAdjust="spacingAndGlyphs">R</tspan></text>
</svg></body></html>
